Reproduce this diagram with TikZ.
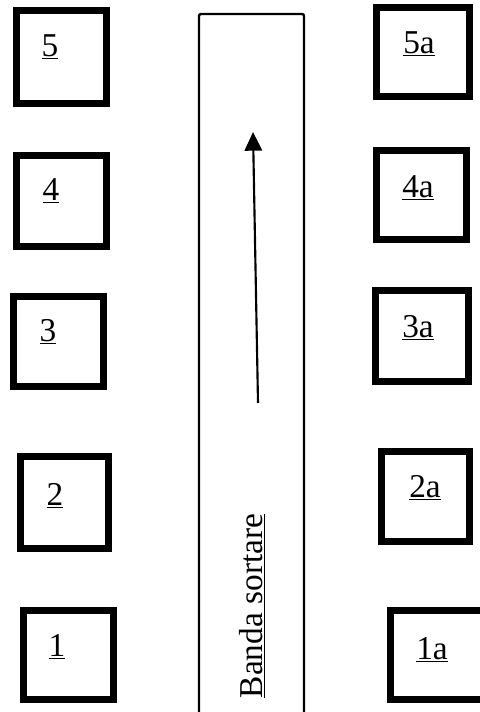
\documentclass[tikz,border=0pt]{standalone}
\usepackage{fontspec}
\setmainfont{Liberation Serif}
\usetikzlibrary{arrows.meta}
\tikzset{
  cella/.style={line width=5pt},
  eticheta/.style={font=\fontsize{25}{29}\selectfont, inner sep=0pt}
}
\begin{document}
\begin{tikzpicture}[x=0.75pt,y=-0.75pt]
        \useasboundingbox (0,0) rectangle (479,712);
        % Banda
        \draw [line width=1.8pt, rounded corners=1.5pt] (199,720) -- (199,14) -- (304,14) -- (304,720);
        \coordinate (start) at (258,403);
        \coordinate (stop) at (253,132);
        \draw [-{Triangle[length=14pt,width=13pt]}, line width=1.6pt] (start) -- (stop);
        \node [eticheta, rotate=90] (banda) at (252,606) {\underline{Banda sortare}};
        % Celule stanga
        \draw [cella] (16.5,10.5) rectangle (106.5,103.5);
        \draw [cella] (16.5,155.5) rectangle (106.5,246.5);
        \draw [cella] (13.5,296.5) rectangle (103.5,386.5);
        \draw [cella] (20.5,456.5) rectangle (108.5,548.5);
        \draw [cella] (23.5,610.5) rectangle (113.5,699.5);
        \node [eticheta] (c5) at (50,47) {\underline{5}};
        \node [eticheta] (c4) at (51,191) {\underline{4}};
        \node [eticheta] (c3) at (48,332) {\underline{3}};
        \node [eticheta] (c2) at (55,496) {\underline{2}};
        \node [eticheta] (c1) at (57,647) {\underline{1}};
        % Celule dreapta
        \draw [cella] (376.5,7.5) rectangle (469.5,96.5);
        \draw [cella] (376.5,150.5) rectangle (466.5,239.5);
        \draw [cella] (375.5,290.5) rectangle (468.5,381.5);
        \draw [cella] (381.5,451.5) rectangle (469.5,541.5);
        \draw [cella] (390.5,610.5) rectangle (490,699.5);
        \node [eticheta] (c5a) at (419,44) {\underline{5a}};
        \node [eticheta] (c4a) at (418,188) {\underline{4a}};
        \node [eticheta] (c3a) at (418,328) {\underline{3a}};
        \node [eticheta] (c2a) at (425,488) {\underline{2a}};
        \node [eticheta] (c1a) at (432,650) {\underline{1a}};
\end{tikzpicture}
\end{document}
